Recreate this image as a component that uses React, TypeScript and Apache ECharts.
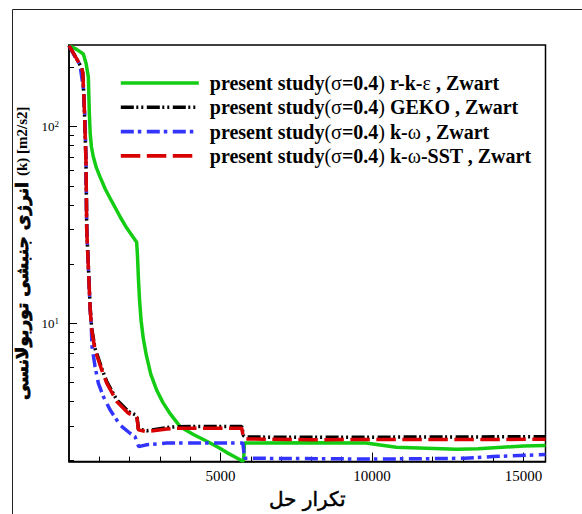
import React, { useEffect, useRef } from "react";
import * as echarts from "echarts";

const SERIF = "'Liberation Serif', 'Times New Roman', serif";
const ARABIC = "'DejaVu Sans', sans-serif";

const seriesNames = [
  "present study(σ=0.4) r-k-ε , Zwart",
  "present study(σ=0.4) GEKO , Zwart",
  "present study(σ=0.4) k-ω , Zwart",
  "present study(σ=0.4) k-ω-SST , Zwart",
];

// r-k-epsilon residual history
const rkeIter = [0, 250, 472, 562, 638, 671, 700, 740, 800, 900, 1024, 1200, 1400, 1700, 1906, 2233, 2260, 2290, 2330, 2380, 2450, 2550, 2700, 2900, 3100, 3350, 3667, 4106, 4400, 4658, 4950, 5210, 5450, 5705, 5760, 5791, 7962, 9800, 10800, 12800, 13500, 15000, 15725];
const rkeK = [258, 247, 234, 210, 179, 117, 92, 79, 70.5, 62, 55.5, 48, 42, 34.5, 30.5, 25.8, 22, 17, 13, 10.3, 8.4, 6.9, 5.5, 4.55, 3.95, 3.45, 2.98, 2.72, 2.58, 2.46, 2.33, 2.2, 2.1, 2.0, 2.0, 2.46, 2.47, 2.46, 2.34, 2.29, 2.3, 2.38, 2.39];

// GEKO
const gekoIter = [0, 307, 420, 453, 496, 529, 562, 585, 640, 700, 750, 859, 1080, 1245, 1576, 1959, 2237, 2265, 2289, 2567, 3228, 3558, 5700, 5760, 5814, 7962, 15725];
const gekoK = [258, 214, 198, 188, 137, 96, 65, 30, 19.5, 11.9, 9.4, 7.45, 5.9, 5.05, 4.08, 3.56, 3.4, 3.15, 2.9, 2.84, 2.95, 2.98, 2.99, 2.68, 2.64, 2.63, 2.65];

// k-omega
const kwIter = [0, 198, 363, 472, 529, 562, 585, 640, 700, 727, 760, 859, 968, 1133, 1355, 1685, 2015, 2180, 2237, 2300, 2567, 3228, 5738, 5790, 5814, 9977, 12000, 13049, 14000, 15725];
const kwK = [258, 227, 206, 157, 110, 65, 30, 19, 11.7, 10.4, 7.63, 6.03, 4.96, 4.24, 3.63, 3.04, 2.76, 2.65, 2.5, 2.36, 2.41, 2.46, 2.46, 2.08, 2.06, 2.04, 2.05, 2.06, 2.1, 2.15];

// k-omega-SST
const sstIter = [0, 307, 420, 453, 496, 529, 562, 585, 640, 700, 750, 859, 1080, 1245, 1576, 1959, 2237, 2265, 2289, 2567, 3228, 3558, 5700, 5760, 5814, 7962, 15725];
const sstK = [258, 214, 198, 188, 137, 96, 65, 30, 19, 11.7, 9.25, 7.31, 5.79, 4.96, 4.0, 3.49, 3.33, 3.1, 2.87, 2.81, 2.9, 2.93, 2.93, 2.6, 2.58, 2.56, 2.57];

const xMajorTicks = [5000, 10000, 15000];
const xMinorTicks = [1000, 2000, 3000, 4000, 6000, 7000, 8000, 9000, 11000, 12000, 13000, 14000];
const yMajorTicks = [10, 100];
const yMinorTicks = [2, 3, 4, 5, 6, 7, 8, 9, 20, 30, 40, 50, 60, 70, 80, 90, 200];

const X_MIN = 0;
const X_MAX = 15725;
const Y_MIN = 1.98;
const Y_MAX = 260;

const zip = (xs: number[], ys: number[]) => xs.map((x, i) => [x, ys[i]]);

export default function App() {
  const ref = useRef<HTMLDivElement>(null);

  useEffect(() => {
    if (!ref.current) return;
    const chart = echarts.init(ref.current, null, { renderer: "svg" });

    const lineSeries = (
      name: string,
      data: number[][],
      color: string,
      type: any
    ) => ({
      name,
      type: "line",
      data,
      xAxisIndex: 0,
      yAxisIndex: 0,
      showSymbol: false,
      symbol: "none",
      lineStyle: { color, width: 3.5, type, cap: "butt" },
      itemStyle: { color },
      emphasis: { disabled: true },
    });

    chart.setOption({
      animation: false,
      backgroundColor: "#fff",
      grid: {
        left: 69,
        top: 45,
        right: 36.5,
        bottom: 52.3,
        show: true,
        borderColor: "#000",
        borderWidth: 1.5,
      },
      legend: {
        orient: "vertical",
        left: 119,
        top: 73,
        padding: 0,
        itemWidth: 78,
        itemHeight: 20,
        itemGap: 4.3,
        data: seriesNames,
        itemStyle: { opacity: 0 },
        lineStyle: { width: 3.6 },
        formatter: (name: string) =>
          name.replace(/[()σεω]/g, (c) => `{n|${c}}`),
        textStyle: {
          fontFamily: SERIF,
          fontWeight: "bold",
          fontSize: 20,
          color: "#000",
          padding: [0, 0, 0, 6],
          rich: {
            n: { fontFamily: SERIF, fontWeight: "normal", fontSize: 20, color: "#000" },
          },
        },
      },
      xAxis: [
        {
          type: "value",
          position: "bottom",
          min: X_MIN,
          max: X_MAX,
          name: "تکرار حل",
          nameLocation: "middle",
          nameGap: 22,
          nameTextStyle: {
            fontFamily: ARABIC,
            fontSize: 20,
            color: "#000",
            textBorderColor: "#000",
            textBorderWidth: 0.5,
          },
          axisLine: { show: true, lineStyle: { color: "#000", width: 1.5 } },
          axisTick: {
            show: true,
            inside: true,
            length: 9,
            customValues: xMajorTicks,
            lineStyle: { color: "#000", width: 1 },
          },
          axisLabel: {
            customValues: xMajorTicks,
            margin: 7,
            formatter: (v: number) => String(v),
            fontFamily: SERIF,
            fontSize: 15,
            color: "#000",
          },
          splitLine: { show: false },
        },
        {
          type: "value",
          position: "bottom",
          min: X_MIN,
          max: X_MAX,
          axisLine: { show: false },
          axisTick: {
            show: true,
            inside: true,
            length: 5,
            customValues: xMinorTicks,
            lineStyle: { color: "#000", width: 1 },
          },
          axisLabel: { show: false },
          splitLine: { show: false },
        },
      ],
      yAxis: [
        {
          type: "log",
          logBase: 10,
          position: "left",
          min: Y_MIN,
          max: Y_MAX,
          name: "{a|انرژی جنبشی توربولانسی}{l|(k) [m2/s2]}",
          nameLocation: "middle",
          nameRotate: 90,
          nameGap: 22,
          nameTextStyle: {
            rich: {
              a: {
                fontFamily: ARABIC,
                fontWeight: "bold",
                fontSize: 17,
                color: "#000",
                textBorderColor: "#000",
                textBorderWidth: 0.7,
              },
              l: {
                fontFamily: SERIF,
                fontWeight: "bold",
                fontSize: 15,
                color: "#000",
                padding: [0, 0, 0, 6],
              },
            },
          },
          axisLine: { show: true, lineStyle: { color: "#000", width: 1.5 } },
          axisTick: {
            show: true,
            inside: true,
            length: 8,
            customValues: yMajorTicks,
            lineStyle: { color: "#000", width: 1 },
          },
          axisLabel: {
            customValues: yMajorTicks,
            margin: 10,
            formatter: (v: number) => `{b|10}{s|${Math.round(Math.log10(v))}}`,
            rich: {
              b: { fontFamily: SERIF, fontSize: 13, color: "#000", lineHeight: 14 },
              s: { fontFamily: SERIF, fontSize: 9, color: "#000", verticalAlign: "top", lineHeight: 9 },
            },
          },
          splitLine: { show: false },
          minorTick: { show: false },
        },
        {
          type: "log",
          logBase: 10,
          position: "left",
          min: Y_MIN,
          max: Y_MAX,
          axisLine: { show: false },
          axisTick: {
            show: true,
            inside: true,
            length: 5,
            customValues: yMinorTicks,
            lineStyle: { color: "#000", width: 1 },
          },
          axisLabel: { show: false },
          splitLine: { show: false },
        },
      ],
      graphic: [
        {
          type: "line",
          shape: { x1: 12.5, y1: 9.5, x2: 582, y2: 9.5 },
          style: { stroke: "#222", lineWidth: 1 },
          silent: true,
        },
        {
          type: "line",
          shape: { x1: 12.5, y1: 9.5, x2: 12.5, y2: 514 },
          style: { stroke: "#222", lineWidth: 1 },
          silent: true,
        },
      ],
      series: [
        lineSeries(seriesNames[0], zip(rkeIter, rkeK), "#14cc14", "solid"),
        lineSeries(seriesNames[1], zip(gekoIter, gekoK), "#000000", [13, 2.5, 2, 3, 2, 3.5]),
        lineSeries(seriesNames[2], zip(kwIter, kwK), "#3434ff", [13, 4, 3.5, 5.5]),
        lineSeries(seriesNames[3], zip(sstIter, sstK), "#d80000", [19.5, 6.5]),
      ],
    });

    return () => chart.dispose();
  }, []);

  return (
    <div
      ref={ref}
      style={{ position: "fixed", left: 0, top: 0, width: 582, height: 514, background: "#fff" }}
    />
  );
}
